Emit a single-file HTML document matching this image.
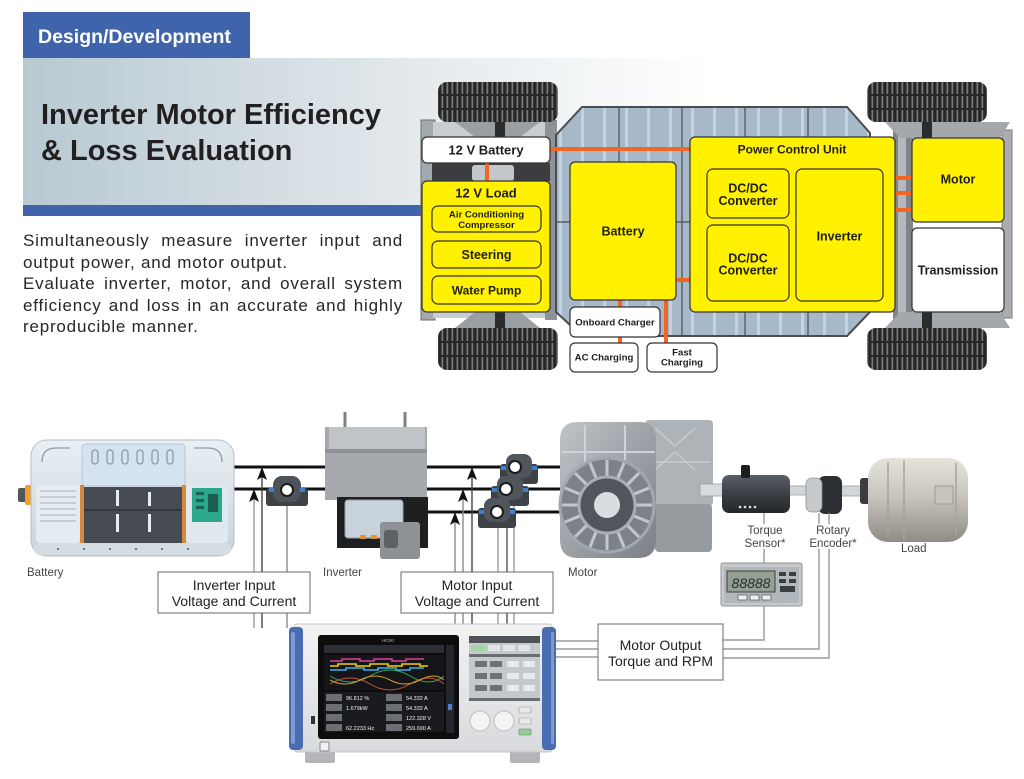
<!DOCTYPE html>
<html><head><meta charset="utf-8">
<style>
html,body{margin:0;padding:0;background:#fff;}
body{width:1024px;height:779px;position:relative;overflow:hidden;font-family:"Liberation Sans",Arial,sans-serif;}
svg{position:absolute;left:0;top:0;}
.pl{position:absolute;left:23px;width:380px;height:21.5px;line-height:21.5px;font-size:17px;letter-spacing:0.8px;color:#262626;white-space:nowrap;}
.j{text-align:justify;text-align-last:justify;}
</style></head><body>
<svg width="1024" height="779" viewBox="0 0 1024 779" font-family="Liberation Sans, Arial, sans-serif">
<defs>
 <linearGradient id="band" x1="0" x2="1" y1="0" y2="0">
  <stop offset="0" stop-color="#b8c9d2"/>
  <stop offset="0.6" stop-color="#e6ebee"/>
  <stop offset="1" stop-color="#ffffff"/>
 </linearGradient>
 <pattern id="tread" width="5" height="50" patternUnits="userSpaceOnUse">
  <rect width="5" height="50" fill="#262626"/>
  <rect x="1.5" y="0" width="1.7" height="50" fill="#7a7a7a"/>
 </pattern>
 <pattern id="panstripe" width="22" height="120" patternUnits="userSpaceOnUse">
  <rect width="22" height="120" fill="#a7b9c9"/>
  <rect x="9" y="0" width="3" height="120" fill="#c2d3e2"/>
 </pattern>
 <linearGradient id="inst" x1="0" x2="0" y1="0" y2="1">
  <stop offset="0" stop-color="#f3f3f4"/><stop offset="1" stop-color="#d9dadd"/>
 </linearGradient>
 <linearGradient id="motorg" x1="0" x2="1" y1="0" y2="1">
  <stop offset="0" stop-color="#c0c4c8"/><stop offset="1" stop-color="#7a8086"/>
 </linearGradient>
 <linearGradient id="loadg" x1="0" x2="0" y1="0" y2="1">
  <stop offset="0" stop-color="#e6e3dd"/><stop offset="0.45" stop-color="#c9c5be"/><stop offset="1" stop-color="#8f8b85"/>
 </linearGradient>
 <linearGradient id="darkc" x1="0" x2="0" y1="0" y2="1">
  <stop offset="0" stop-color="#5a6066"/><stop offset="0.5" stop-color="#3a3f44"/><stop offset="1" stop-color="#23272a"/>
 </linearGradient>
 <linearGradient id="batg" x1="0" x2="0" y1="0" y2="1">
  <stop offset="0" stop-color="#e9f0f5"/><stop offset="1" stop-color="#c9d3db"/>
 </linearGradient>
</defs>

<!-- header -->
<rect x="23" y="58" width="690" height="147" fill="url(#band)"/>
<rect x="23" y="12" width="227" height="46" fill="#4064ab"/>
<text x="38" y="43" font-size="19.5" font-weight="bold" fill="#fff">Design/Development</text>
<rect x="23" y="205" width="402" height="11" fill="#4064ab"/>
<text x="41" y="124" font-size="29" font-weight="bold" fill="#231f20">Inverter Motor Efficiency</text>
<text x="41" y="160" font-size="29" font-weight="bold" fill="#231f20">&amp; Loss Evaluation</text>

<!-- ===== top chassis diagram ===== -->
<rect x="421" y="120" width="14" height="200" fill="#a4a9ae" stroke="#6a6e72"/>
<rect x="433" y="122" width="120" height="196" fill="#c9cdd1"/>
<rect x="545" y="120" width="12" height="200" fill="#8d9297"/>
<path d="M455,122 L475,137 L520,137 L540,122 Z" fill="#9a9fa4"/>
<path d="M455,328 L475,312 L520,312 L540,328 Z" fill="#9a9fa4"/>
<rect x="432" y="163" width="118" height="18" fill="#3b3d40"/>
<rect x="472" y="165" width="42" height="16" rx="3" fill="#c4c7ca"/>
<rect x="495" y="122" width="10" height="15" fill="#2c2c2c"/>
<rect x="495" y="312" width="10" height="16" fill="#2c2c2c"/>
<polygon points="582,107 847,107 870,133 870,312 847,336 582,336 556,312 556,135" fill="url(#panstripe)" stroke="#4a4d50" stroke-width="2"/>
<line x1="619" y1="108" x2="619" y2="335" stroke="#4a4d50" stroke-width="1.2"/>
<line x1="682" y1="108" x2="682" y2="335" stroke="#4a4d50" stroke-width="1.2"/>
<line x1="745" y1="108" x2="745" y2="335" stroke="#4a4d50" stroke-width="1.2"/>
<line x1="808" y1="108" x2="808" y2="335" stroke="#4a4d50" stroke-width="1.2"/>
<line x1="557" y1="222" x2="869" y2="222" stroke="#4a4d50" stroke-width="1.2"/>
<rect x="893" y="128" width="20" height="192" fill="#7f8489"/>
<rect x="898" y="128" width="8" height="192" fill="#b5b9bd"/>
<rect x="1002" y="130" width="10" height="188" fill="#a9adb1" stroke="#7a7e82"/>
<path d="M885,122 L900,138 L1000,138 L1010,122 Z" fill="#a4a8ad"/>
<path d="M885,328 L900,312 L1000,312 L1010,328 Z" fill="#a4a8ad"/>
<rect x="922" y="122" width="10" height="16" fill="#2c2c2c"/>
<rect x="922" y="312" width="10" height="16" fill="#2c2c2c"/>
<g>
 <rect x="438" y="82" width="120" height="40" rx="9" fill="url(#tread)"/>
 <line x1="440" y1="95" x2="556" y2="95" stroke="#262626" stroke-width="2"/>
 <line x1="440" y1="109" x2="556" y2="109" stroke="#262626" stroke-width="2"/>
 <rect x="438" y="328" width="120" height="42" rx="9" fill="url(#tread)"/>
 <line x1="440" y1="342" x2="556" y2="342" stroke="#262626" stroke-width="2"/>
 <line x1="440" y1="356" x2="556" y2="356" stroke="#262626" stroke-width="2"/>
 <rect x="867" y="82" width="120" height="40" rx="9" fill="url(#tread)"/>
 <line x1="869" y1="95" x2="985" y2="95" stroke="#262626" stroke-width="2"/>
 <line x1="869" y1="109" x2="985" y2="109" stroke="#262626" stroke-width="2"/>
 <rect x="867" y="328" width="120" height="42" rx="9" fill="url(#tread)"/>
 <line x1="869" y1="342" x2="985" y2="342" stroke="#262626" stroke-width="2"/>
 <line x1="869" y1="356" x2="985" y2="356" stroke="#262626" stroke-width="2"/>
</g>

<g stroke="#f26522" stroke-width="4" fill="none">
 <path d="M550,149 H697 V190 H708"/>
 <path d="M697,190 V280"/>
 <path d="M708,198 H703 V280"/>
 <path d="M676,280 H708"/>
 <path d="M789,280 H797"/>
 <path d="M487,163 V181"/>
 <path d="M620,300 V343"/>
 <path d="M666,300 V343"/>
 <path d="M883,178 H912 M883,193 H912 M883,210 H912"/>
</g>

<g stroke="#333" stroke-width="1.2">
 <rect x="422" y="137" width="128" height="26" rx="5" fill="#fff"/>
 <rect x="422" y="181" width="128" height="131" rx="5" fill="#fff100"/>
 <rect x="432" y="206" width="109" height="26" rx="6" fill="#fff100"/>
 <rect x="432" y="241" width="109" height="27" rx="6" fill="#fff100"/>
 <rect x="432" y="276" width="109" height="28" rx="6" fill="#fff100"/>
 <rect x="570" y="162" width="106" height="138" rx="5" fill="#fff100"/>
 <rect x="570" y="307" width="90" height="30" rx="5" fill="#fff"/>
 <rect x="570" y="343" width="68" height="29" rx="5" fill="#fff"/>
 <rect x="647" y="343" width="70" height="29" rx="5" fill="#fff"/>
 <rect x="690" y="137" width="205" height="175" rx="5" fill="#fff100"/>
 <rect x="707" y="169" width="82" height="49" rx="6" fill="#fff100"/>
 <rect x="707" y="225" width="82" height="76" rx="6" fill="#fff100"/>
 <rect x="796" y="169" width="87" height="132" rx="6" fill="#fff100"/>
 <rect x="912" y="138" width="92" height="84" rx="5" fill="#fff100"/>
 <rect x="912" y="228" width="92" height="84" rx="5" fill="#fff"/>
</g>
<g font-weight="bold" fill="#1e1e1e" text-anchor="middle">
 <text x="486" y="154.5" font-size="13">12 V Battery</text>
 <text x="486" y="197.5" font-size="13">12 V Load</text>
 <text x="486.5" y="217.5" font-size="9.6">Air Conditioning</text>
 <text x="486.5" y="228" font-size="9.6">Compressor</text>
 <text x="486.5" y="259" font-size="12.5">Steering</text>
 <text x="486.5" y="294.5" font-size="12">Water Pump</text>
 <text x="623" y="235.5" font-size="12.5">Battery</text>
 <text x="615" y="325.5" font-size="9.6">Onboard Charger</text>
 <text x="604" y="360.5" font-size="9.6">AC Charging</text>
 <text x="682" y="355.5" font-size="9.6">Fast</text>
 <text x="682" y="365.5" font-size="9.6">Charging</text>
 <text x="792" y="153.5" font-size="12">Power Control Unit</text>
 <text x="748" y="192.5" font-size="12.5">DC/DC</text>
 <text x="748" y="205" font-size="12.5">Converter</text>
 <text x="748" y="262.5" font-size="12.5">DC/DC</text>
 <text x="748" y="274.5" font-size="12.5">Converter</text>
 <text x="839.5" y="240.5" font-size="12.5">Inverter</text>
 <text x="958" y="183.5" font-size="12.5">Motor</text>
 <text x="958" y="274.5" font-size="12.5">Transmission</text>
</g>

<!-- ===== bottom diagram ===== -->
<g stroke="#111" stroke-width="3">
 <line x1="228" y1="467" x2="335" y2="467"/>
 <line x1="228" y1="489" x2="335" y2="489"/>
 <line x1="420" y1="467" x2="562" y2="467"/>
 <line x1="420" y1="489" x2="562" y2="489"/>
 <line x1="420" y1="512" x2="562" y2="512"/>
</g>
<g stroke-width="1.4" fill="none">
 <line x1="254" y1="490" x2="254" y2="628" stroke="#9a9a9a"/>
 <line x1="262" y1="468" x2="262" y2="628" stroke="#444"/>
 <line x1="287" y1="505" x2="287" y2="628" stroke="#8a8a8a"/>
 <line x1="455" y1="513" x2="455" y2="628" stroke="#8a8a8a"/>
 <line x1="463" y1="490" x2="463" y2="628" stroke="#8a8a8a"/>
 <line x1="472" y1="468" x2="472" y2="628" stroke="#444"/>
 <line x1="498" y1="525" x2="498" y2="628" stroke="#9a9a9a"/>
 <line x1="507" y1="503" x2="507" y2="628" stroke="#555"/>
 <line x1="514" y1="481" x2="514" y2="628" stroke="#9a9a9a"/>
</g>
<g fill="#111">
 <path d="M262,467 l-5,13 l5,-3 l5,3 z"/>
 <path d="M254,489 l-5,13 l5,-3 l5,3 z"/>
 <path d="M472,467 l-5,13 l5,-3 l5,3 z"/>
 <path d="M463,489 l-5,13 l5,-3 l5,3 z"/>
 <path d="M455,512 l-5,13 l5,-3 l5,3 z"/>
</g>
<g>
 <g transform="translate(266,476)">
  <rect x="0" y="12" width="42" height="18" rx="3" fill="#3d4247"/>
  <rect x="7" y="0" width="28" height="26" rx="9" fill="#4d5358"/>
  <rect x="3" y="12" width="5" height="4" fill="#3f7fd0"/><rect x="34" y="12" width="5" height="4" fill="#3f7fd0"/>
  <circle cx="21" cy="14" r="6" fill="#fff" stroke="#1c1c1c" stroke-width="2"/>
 </g>
 <g transform="translate(500,454)">
  <rect x="0" y="10" width="38" height="20" rx="3" fill="#3d4247"/>
  <rect x="6" y="0" width="26" height="24" rx="8" fill="#50565c"/>
  <rect x="1" y="12" width="5" height="4" fill="#3f7fd0"/><rect x="32" y="12" width="5" height="4" fill="#3f7fd0"/>
  <circle cx="15" cy="13" r="6" fill="#fff" stroke="#1c1c1c" stroke-width="2"/>
 </g>
 <g transform="translate(491,476)">
  <rect x="0" y="10" width="38" height="20" rx="3" fill="#3d4247"/>
  <rect x="6" y="0" width="26" height="24" rx="8" fill="#50565c"/>
  <rect x="1" y="12" width="5" height="4" fill="#3f7fd0"/><rect x="32" y="12" width="5" height="4" fill="#3f7fd0"/>
  <circle cx="15" cy="13" r="6" fill="#fff" stroke="#1c1c1c" stroke-width="2"/>
 </g>
 <g transform="translate(478,498)">
  <rect x="0" y="10" width="38" height="20" rx="3" fill="#3d4247"/>
  <rect x="6" y="0" width="26" height="24" rx="8" fill="#50565c"/>
  <rect x="1" y="12" width="5" height="4" fill="#3f7fd0"/><rect x="32" y="12" width="5" height="4" fill="#3f7fd0"/>
  <circle cx="19" cy="14" r="6" fill="#fff" stroke="#1c1c1c" stroke-width="2"/>
 </g>
</g>

<!-- battery pack -->
<g>
 <rect x="18" y="488" width="10" height="14" rx="2" fill="#555"/>
 <rect x="25" y="485" width="8" height="20" rx="2" fill="#f0a030"/>
 <rect x="31" y="440" width="203" height="116" rx="16" fill="url(#batg)" stroke="#b4bec7"/>
 <rect x="82" y="444" width="103" height="42" rx="4" fill="#d3e3ef" stroke="#b7c6d2"/>
 <g fill="none" stroke="#8e9aa4" stroke-width="1.3">
  <rect x="92" y="450" width="6" height="14" rx="3"/><rect x="107" y="450" width="6" height="14" rx="3"/>
  <rect x="122" y="450" width="6" height="14" rx="3"/><rect x="137" y="450" width="6" height="14" rx="3"/>
  <rect x="152" y="450" width="6" height="14" rx="3"/><rect x="167" y="450" width="6" height="14" rx="3"/>
  <path d="M42,462 q0,-14 14,-14 h14"/><path d="M222,462 q0,-14 -14,-14 h-14"/>
 </g>
 <rect x="36" y="485" width="44" height="58" rx="4" fill="#e4ebf1"/>
 <g stroke="#b9c4cc" stroke-width="1.5">
  <line x1="40" y1="491" x2="76" y2="491"/><line x1="40" y1="497" x2="76" y2="497"/>
  <line x1="40" y1="503" x2="76" y2="503"/><line x1="40" y1="509" x2="76" y2="509"/>
  <line x1="40" y1="515" x2="76" y2="515"/><line x1="40" y1="521" x2="76" y2="521"/>
 </g>
 <rect x="80" y="485" width="4" height="60" fill="#d38a3c"/>
 <rect x="84" y="487" width="98" height="58" fill="#474c52"/>
 <g fill="#e6eef4">
  <rect x="116" y="490" width="3" height="16"/><rect x="148" y="492" width="3" height="14"/>
  <rect x="116" y="514" width="3" height="18"/><rect x="148" y="514" width="3" height="18"/>
 </g>
 <line x1="84" y1="510" x2="182" y2="510" stroke="#2f3236" stroke-width="1.5"/>
 <rect x="182" y="485" width="4" height="60" fill="#d38a3c"/>
 <rect x="186" y="485" width="42" height="58" rx="4" fill="#e1e8ee"/>
 <rect x="192" y="488" width="30" height="34" fill="#2ca68c"/>
 <g fill="#1d5e52"><rect x="196" y="492" width="8" height="3"/><rect x="196" y="499" width="8" height="3"/><rect x="196" y="506" width="8" height="3"/><rect x="208" y="494" width="10" height="18"/></g>
 <rect x="34" y="543" width="197" height="12" rx="6" fill="#d5dce2"/>
 <g fill="#555"><circle cx="58" cy="549" r="1"/><circle cx="84" cy="549" r="1"/><circle cx="110" cy="549" r="1"/><circle cx="136" cy="549" r="1"/><circle cx="162" cy="549" r="1"/><circle cx="188" cy="549" r="1"/></g>
</g>

<!-- inverter -->
<g>
 <line x1="345" y1="412" x2="345" y2="430" stroke="#7d8185" stroke-width="3"/>
 <line x1="405" y1="412" x2="405" y2="430" stroke="#7d8185" stroke-width="3"/>
 <rect x="325" y="427" width="102" height="73" fill="#a6aaae"/>
 <rect x="329" y="427" width="96" height="22" fill="#c1c4c7"/>
 <rect x="325" y="449" width="102" height="4" fill="#8f9397"/>
 <rect x="337" y="497" width="91" height="51" fill="#1e1f21"/>
 <rect x="345" y="500" width="58" height="38" rx="3" fill="#c8d2da" stroke="#97a0a8"/>
 <rect x="360" y="535" width="6" height="4" fill="#e89030"/><rect x="371" y="535" width="6" height="4" fill="#e89030"/>
 <rect x="380" y="522" width="40" height="37" rx="3" fill="#8e9296"/>
 <rect x="384" y="530" width="14" height="18" rx="3" fill="#5d6165"/>
</g>

<!-- motor -->
<g>
 <rect x="645" y="420" width="68" height="86" rx="4" fill="#aeb3b8"/>
 <g stroke="#c8ccd0" stroke-width="1.5" fill="none">
  <path d="M655,428 l20,18 l20,-18 M655,470 l20,-18 l20,18"/><line x1="650" y1="462" x2="710" y2="462"/>
 </g>
 <rect x="655" y="504" width="57" height="48" rx="4" fill="#969ba0"/>
 <path d="M560,440 q0,-18 18,-18 h62 q16,0 16,18 v100 q0,18 -18,18 h-60 q-18,0 -18,-18 z" fill="url(#motorg)"/>
 <g stroke="#d0d4d8" stroke-width="2"><line x1="585" y1="425" x2="585" y2="470"/><line x1="625" y1="425" x2="625" y2="470"/><line x1="562" y1="452" x2="655" y2="452"/></g>
 <circle cx="607" cy="505" r="47" fill="#7c8288" stroke="#a2a8ae" stroke-width="3"/>
 <g stroke="#c2c7cc" stroke-width="3">
  <line x1="607" y1="460" x2="607" y2="550"/><line x1="562" y1="505" x2="652" y2="505"/>
  <line x1="575" y1="473" x2="639" y2="537"/><line x1="639" y1="473" x2="575" y2="537"/>
  <line x1="590" y1="463" x2="624" y2="547"/><line x1="624" y1="463" x2="590" y2="547"/>
  <line x1="565" y1="488" x2="649" y2="522"/><line x1="565" y1="522" x2="649" y2="488"/>
 </g>
 <circle cx="607" cy="505" r="28" fill="#50565c" stroke="#a8aeb3" stroke-width="3"/>
 <circle cx="607" cy="505" r="13" fill="#dadde0"/>
</g>

<rect x="700" y="484" width="26" height="12" fill="#d9dcdf" stroke="#9a9ea2" stroke-width="0.8"/>
<rect x="788" y="486" width="20" height="9" fill="#d3d6d9" stroke="#9a9ea2" stroke-width="0.8"/>
<rect x="840" y="486" width="24" height="10" fill="#d3d6d9" stroke="#9a9ea2" stroke-width="0.8"/>
<rect x="722" y="475" width="68" height="38" rx="7" fill="url(#darkc)"/>
<rect x="741" y="465" width="9" height="13" rx="2" fill="#1e1e1e"/>
<g fill="#ddd"><circle cx="740" cy="507" r="1.3"/><circle cx="745" cy="507" r="1.3"/><circle cx="750" cy="507" r="1.3"/><circle cx="755" cy="507" r="1.3"/></g>
<rect x="818" y="476" width="24" height="38" rx="7" fill="#2c2f33"/>
<rect x="806" y="478" width="16" height="34" rx="6" fill="#c6cacd" stroke="#8c9094" stroke-width="0.8"/>
<rect x="860" y="478" width="12" height="26" rx="3" fill="#3a3d40"/>
<rect x="868" y="458" width="100" height="84" rx="20" fill="url(#loadg)"/>
<g stroke="#a7a39c" stroke-width="1.5"><line x1="888" y1="462" x2="888" y2="538"/><line x1="904" y1="460" x2="904" y2="540"/><line x1="956" y1="463" x2="956" y2="537"/></g>
<rect x="935" y="486" width="18" height="18" fill="#c7c3bb" stroke="#a29e97"/>

<g stroke="#9a9a9a" stroke-width="1.4" fill="none">
 <line x1="764" y1="513" x2="764" y2="563"/>
 <path d="M723,640 H764 V606"/>
 <path d="M723,649 H819 V513"/>
 <path d="M723,658 H829 V513"/>
 <line x1="554" y1="641" x2="598" y2="641"/>
 <line x1="554" y1="649" x2="598" y2="649"/>
 <line x1="554" y1="657" x2="598" y2="657"/>
</g>
<g>
 <rect x="721" y="563" width="81" height="43" rx="2" fill="#c6cacd" stroke="#8f9397"/>
 <rect x="724" y="567" width="75" height="36" fill="#b2b7bb"/>
 <rect x="727" y="571" width="48" height="21" fill="#93a093" stroke="#3d3d3d"/>
 <text x="751" y="588" font-size="14" font-style="italic" fill="#2b302b" text-anchor="middle">88888</text>
 <g fill="#3b3e41"><rect x="779" y="572" width="7" height="4"/><rect x="789" y="572" width="7" height="4"/><rect x="779" y="579" width="7" height="4"/><rect x="789" y="579" width="7" height="4"/><rect x="780" y="586" width="15" height="6"/></g>
 <g fill="#eee" stroke="#444" stroke-width="0.6"><rect x="738" y="595" width="9" height="5"/><rect x="750" y="595" width="9" height="5"/><rect x="762" y="595" width="9" height="5"/></g>
</g>

<g font-size="11.5" fill="#454545">
 <text x="27" y="576">Battery</text>
 <text x="323" y="576">Inverter</text>
 <text x="568" y="576">Motor</text>
 <text x="901" y="552">Load</text>
</g>
<rect x="740" y="524" width="50" height="25" fill="#fff"/>
<rect x="808" y="524" width="50" height="25" fill="#fff"/>
<g font-size="11.5" fill="#454545" text-anchor="middle">
 <text x="765" y="534">Torque</text>
 <text x="765" y="547">Sensor*</text>
 <text x="833" y="534">Rotary</text>
 <text x="833" y="547">Encoder*</text>
</g>

<g fill="#fff" stroke="#6a6a6a" stroke-width="1">
 <rect x="158" y="572" width="152" height="41"/>
 <rect x="401" y="572" width="152" height="41"/>
 <rect x="598" y="624" width="125" height="56"/>
</g>
<g font-size="14" fill="#222" text-anchor="middle">
 <text x="234" y="590">Inverter Input</text>
 <text x="234" y="606">Voltage and Current</text>
 <text x="477" y="590">Motor Input</text>
 <text x="477" y="606">Voltage and Current</text>
 <text x="660.5" y="650">Motor Output</text>
 <text x="660.5" y="666">Torque and RPM</text>
</g>

<!-- power analyzer -->
<g>
 <rect x="305" y="750" width="30" height="13" rx="2" fill="#b3b5b8"/>
 <rect x="510" y="750" width="30" height="13" rx="2" fill="#b3b5b8"/>
 <rect x="294" y="624" width="258" height="128" rx="3" fill="url(#inst)" stroke="#c4c5c8"/>
 <rect x="289" y="627" width="14" height="123" rx="4" fill="#4a6db2"/>
 <rect x="291" y="632" width="4" height="112" rx="2" fill="#7e9ad0"/>
 <rect x="542" y="627" width="14" height="123" rx="4" fill="#4a6db2"/>
 <rect x="551" y="632" width="3" height="112" rx="2" fill="#7e9ad0"/>
 <rect x="318" y="635" width="141" height="104" rx="3" fill="#0d0d0e"/>
 <text x="388" y="642" font-size="4.5" fill="#bbb" text-anchor="middle">HIOKI</text>
 <rect x="324" y="645" width="120" height="8" fill="#2c2f33"/>
 <rect x="324" y="655" width="120" height="35" fill="#141518"/>
 <g fill="none" stroke-width="1.6">
  <path d="M330,661 h12 v-2 h18 v2 h14 v-2 h18 v2 h14 v-2 h18" stroke="#e0409a"/>
  <path d="M330,666 h8 v-2 h18 v2 h14 v-2 h18 v2 h14 v-2 h18 v2 h8" stroke="#f5d000"/>
  <path d="M330,670 h16 v-2 h18 v2 h14 v-2 h18 v2 h14 v-2 h14" stroke="#3cb4e6"/>
  <path d="M330,676 q20,12 40,0 t40,0 t34,0" stroke="#3aa65a" stroke-width="1"/>
  <path d="M330,684 q20,-12 40,0 t40,0 t34,0" stroke="#c4563a" stroke-width="1"/>
  <path d="M330,680 q15,8 30,0 t30,0 t30,0 t24,0" stroke="#d39a3a" stroke-width="1"/>
 </g>
 <rect x="324" y="692" width="120" height="40" fill="#1a1b1e"/>
 <g fill="#6b6e73"><rect x="326" y="694" width="16" height="7"/><rect x="326" y="704" width="16" height="7"/><rect x="326" y="714" width="16" height="7"/><rect x="326" y="724" width="16" height="7"/>
  <rect x="386" y="694" width="16" height="7"/><rect x="386" y="704" width="16" height="7"/><rect x="386" y="714" width="16" height="7"/><rect x="386" y="724" width="16" height="7"/></g>
 <g font-size="5.5" fill="#f2f2f2">
  <text x="346" y="700">96.812 %</text><text x="406" y="700">54.332 A</text>
  <text x="346" y="710">1.679kW</text><text x="406" y="710">54.332 A</text>
  <text x="406" y="720">122.328 V</text>
  <text x="346" y="730">62.2233 Hz</text><text x="406" y="730">259.690 A</text>
 </g>
 <rect x="446" y="645" width="8" height="88" fill="#24272b"/>
 <rect x="448" y="704" width="4" height="6" fill="#4a7fd0"/>
 <rect x="469" y="636" width="71" height="64" fill="#c5c8cc"/>
 <rect x="469" y="636" width="71" height="7" fill="#4f5357"/>
 <g fill="#9fd89f"><rect x="473" y="645" width="12" height="6"/></g>
 <g fill="#e2e4e6"><rect x="488" y="645" width="12" height="6"/><rect x="503" y="645" width="12" height="6"/><rect x="518" y="645" width="12" height="6"/></g>
 <rect x="469" y="654" width="71" height="3" fill="#6a6e72"/>
 <g fill="#6e7276"><rect x="475" y="661" width="12" height="6"/><rect x="490" y="661" width="12" height="6"/><rect x="475" y="673" width="12" height="6"/><rect x="490" y="673" width="12" height="6"/><rect x="475" y="685" width="12" height="6"/><rect x="490" y="685" width="12" height="6"/></g>
 <g fill="#e8eaec"><rect x="507" y="661" width="12" height="6"/><rect x="523" y="661" width="12" height="6"/><rect x="507" y="673" width="12" height="6"/><rect x="523" y="673" width="12" height="6"/><rect x="507" y="685" width="12" height="6"/><rect x="523" y="685" width="12" height="6"/></g>
 <rect x="469" y="698" width="71" height="3" fill="#6a6e72"/>
 <circle cx="480" cy="721" r="10" fill="#f4f4f5" stroke="#b9bbbe"/>
 <circle cx="504" cy="721" r="10" fill="#f4f4f5" stroke="#b9bbbe"/>
 <rect x="519" y="707" width="12" height="6" rx="1" fill="#e8e9eb" stroke="#999" stroke-width="0.6"/>
 <rect x="519" y="718" width="12" height="6" rx="1" fill="#e8e9eb" stroke="#999" stroke-width="0.6"/>
 <rect x="519" y="729" width="12" height="6" rx="1" fill="#8ed08e" stroke="#777" stroke-width="0.6"/>
 <rect x="311" y="716" width="4" height="8" fill="#333"/>
 <rect x="320" y="742" width="9" height="9" rx="1" fill="#f0f0f0" stroke="#888"/>
</g>
</svg>

<div class="pl j" style="top:230px;">Simultaneously measure inverter input and</div>
<div class="pl" style="top:251.5px;">output power, and motor output.</div>
<div class="pl j" style="top:273px;">Evaluate inverter, motor, and overall system</div>
<div class="pl j" style="top:294.5px;">efficiency and loss in an accurate and highly</div>
<div class="pl" style="top:316px;">reproducible manner.</div>
</body></html>
